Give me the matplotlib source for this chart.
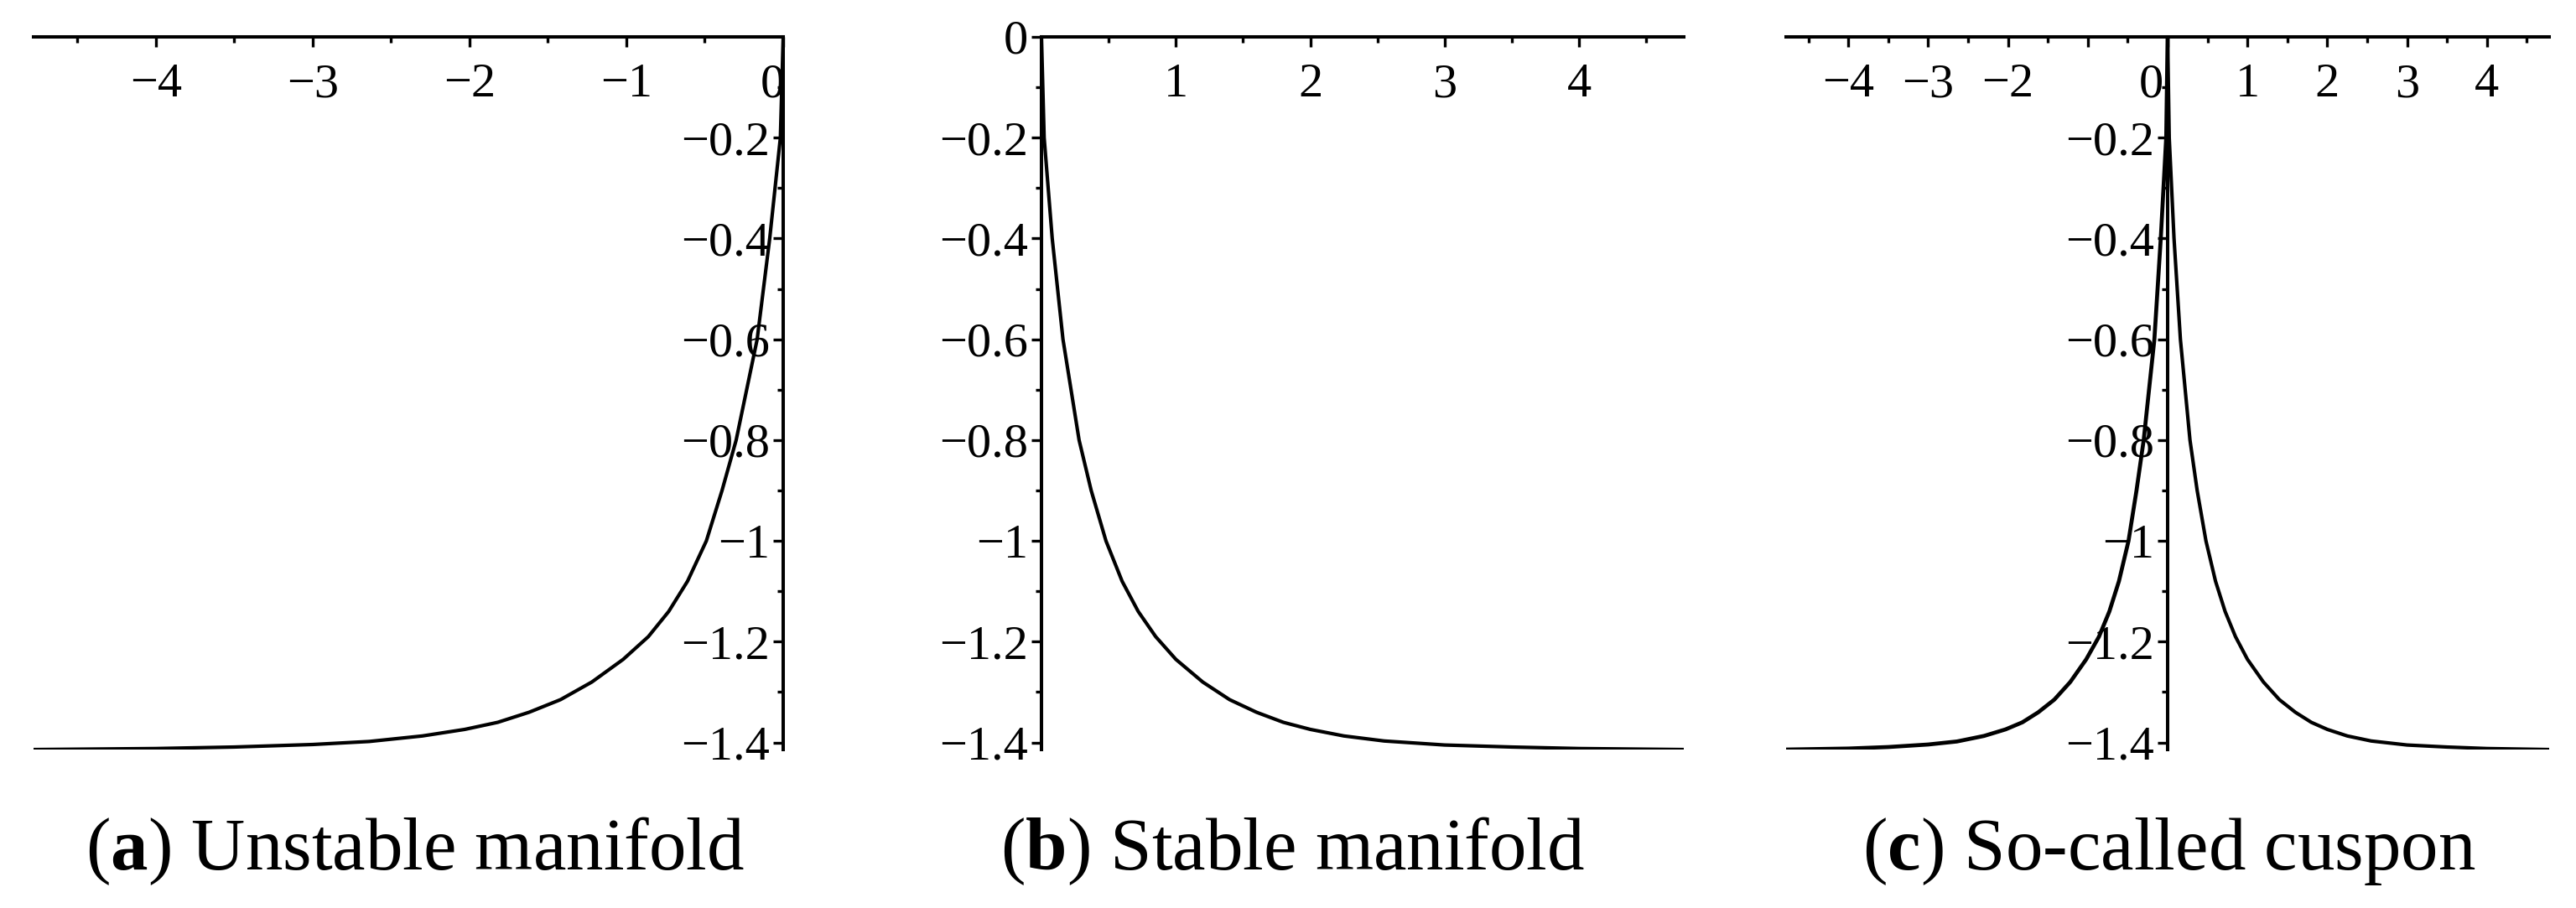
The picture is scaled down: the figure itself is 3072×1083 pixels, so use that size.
import matplotlib
matplotlib.use('Agg')
import matplotlib.pyplot as plt
import matplotlib.transforms as mtransforms

plt.rcParams['font.family'] = ['Liberation Serif', 'DejaVu Serif']
plt.rcParams['mathtext.fontset'] = 'custom'
plt.rcParams['mathtext.rm'] = 'Liberation Serif'
plt.rcParams['mathtext.bf'] = 'Liberation Serif:bold'

# valores
inestable_x = [-4.78, -4.0, -3.5, -3.0, -2.64, -2.3, -2.03, -1.82, -1.62, -1.42, -1.22,
               -1.02, -0.86, -0.73, -0.61, -0.49, -0.39, -0.30, -0.166, -0.086, -0.018, 0.0]
inestable_y = [-1.414, -1.412, -1.409, -1.404, -1.398, -1.387, -1.374, -1.36, -1.34, -1.315, -1.28,
               -1.235, -1.19, -1.14, -1.08, -1.0, -0.9, -0.8, -0.6, -0.4, -0.2, 0.0]

estable_x = [0.0, 0.02, 0.08, 0.16, 0.28, 0.37, 0.48, 0.60, 0.72, 0.85, 1.0, 1.2, 1.4,
             1.6, 1.8, 2.0, 2.25, 2.55, 3.0, 3.5, 4.0, 4.78]
estable_y = [0.0, -0.2, -0.4, -0.6, -0.8, -0.9, -1.0, -1.08, -1.14, -1.19, -1.235, -1.28, -1.315,
             -1.34, -1.36, -1.374, -1.387, -1.397, -1.405, -1.409, -1.412, -1.414]

ticks_x_neg = [-4, -3, -2, -1, 0]
etiq_x_neg = ['\u22124', '\u22123', '\u22122', '\u22121', '0']
ticks_x_pos = [1, 2, 3, 4]
etiq_x_pos = ['1', '2', '3', '4']
ticks_y = [-0.2, -0.4, -0.6, -0.8, -1.0, -1.2, -1.4]
etiq_y = ['\u22120.2', '\u22120.4', '\u22120.6', '\u22120.8', '\u22121', '\u22121.2', '\u22121.4']

titulos = ['($\\mathbf{a}$) Unstable manifold', '($\\mathbf{b}$) Stable manifold',
           '($\\mathbf{c}$) So-called cuspon']

fig = plt.figure(figsize=(30.72, 10.83), dpi=100)

W, H = 3072.0, 1083.0
top_px, bot_px = 44, 894


def crear_ejes(x0, x1):
    return fig.add_axes([x0 / W, (H - bot_px) / H, (x1 - x0) / W, (bot_px - top_px) / H])


def estilo(ax, xlim, xt, xl, yt, yl):
    ax.set_xlim(*xlim)
    ax.set_ylim(min(inestable_y + estable_y), 0)
    for s in ['top', 'right']:
        ax.spines[s].set_visible(False)
    ax.spines['bottom'].set_position(('data', 0))
    ax.spines['left'].set_position(('data', 0))
    for s in ['bottom', 'left']:
        ax.spines[s].set_linewidth(2.9)
        ax.spines[s].set_zorder(1)
    ax.set_xticks(xt)
    ax.set_xticklabels(xl)
    ax.set_yticks(yt)
    ax.set_yticklabels(yl)
    # menores
    xmin = [v / 2 for v in range(int(xlim[0] * 2), int(xlim[1] * 2) + 1) if v % 2 != 0]
    ax.set_xticks(xmin, minor=True)
    ax.set_yticks([-0.1, -0.3, -0.5, -0.7, -0.9, -1.1, -1.3], minor=True)
    ax.tick_params(axis='x', which='major', direction='out', length=8.5, width=2.4,
                   labelsize=42, pad=14)
    ax.tick_params(axis='y', which='major', direction='out', length=8.5, width=2.4,
                   labelsize=42, pad=3)
    ax.tick_params(which='minor', direction='out', length=5, width=2.4)
    ax.patch.set_visible(False)


# (a)
ax1 = crear_ejes(40, 934)
ax1.plot(inestable_x, inestable_y, color='black', lw=3.0, zorder=3)
estilo(ax1, (-4.78, 0), ticks_x_neg, etiq_x_neg, ticks_y, etiq_y)

# (b)
ax2 = crear_ejes(1242, 2008)
ax2.plot(estable_x, estable_y, color='black', lw=3.0, zorder=3)
estilo(ax2, (0, 4.78), ticks_x_pos, etiq_x_pos, [0] + ticks_y, ['0'] + etiq_y)

# (c)  el -1 no aparece en el original
ax3 = crear_ejes(2130, 3040)
ax3.plot(inestable_x, inestable_y, color='black', lw=3.4, zorder=3)
ax3.plot(estable_x, estable_y, color='black', lw=3.0, zorder=3)
etiq_c = [e if e != '\u22121' else '' for e in etiq_x_neg] + etiq_x_pos
estilo(ax3, (-4.78, 4.78), ticks_x_neg + ticks_x_pos, etiq_c, ticks_y, etiq_y)

# el "0" del eje x va corrido a la izquierda
for ax, dx in [(ax1, -13), (ax3, -20)]:
    for lab in ax.get_xticklabels():
        if lab.get_text() == '0':
            lab.set_transform(lab.get_transform() +
                              mtransforms.ScaledTranslation(dx / 100.0, 0, fig.dpi_scale_trans))

for cx, t in zip([495, 1542, 2587], titulos):
    fig.text(cx / W, (H - 1037) / H, t, ha='center', va='baseline', fontsize=64)

fig.savefig('out.png', dpi=100, facecolor='white')
